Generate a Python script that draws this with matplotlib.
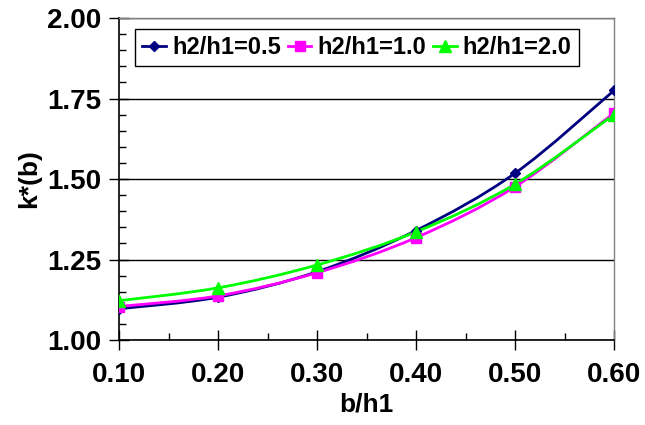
import matplotlib
matplotlib.use("Agg")
import matplotlib.pyplot as plt
from matplotlib.path import Path
from matplotlib.patches import PathPatch
from matplotlib.lines import Line2D
from matplotlib.ticker import MultipleLocator, FormatStrFormatter
import numpy as np

plt.rcParams['font.family'] = ['Liberation Sans', 'DejaVu Sans']
plt.rcParams['font.weight'] = 'bold'

# data
b_h1 = [0.10, 0.20, 0.30, 0.40, 0.50, 0.60]
k_05 = [1.097, 1.133, 1.212, 1.340, 1.518, 1.775]
k_10 = [1.104, 1.137, 1.209, 1.318, 1.476, 1.705]
k_20 = [1.122, 1.162, 1.233, 1.336, 1.484, 1.700]
labels = ['h2/h1=0.5', 'h2/h1=1.0', 'h2/h1=2.0']
colors = ['#000080', '#ff00ff', '#00ff00']
markers = ['D', 's', '^']
msizes = [5, 7, 8]


def smooth_path(x, y, tension=1/6):
    # Catmull-Rom style bezier like Excel's "smoothed line"
    x = np.asarray(x, float)
    y = np.asarray(y, float)
    verts = [(x[0], y[0])]
    codes = [Path.MOVETO]
    n = len(x)
    for i in range(n - 1):
        x0, y0 = (x[i - 1], y[i - 1]) if i > 0 else (x[i], y[i])
        x3, y3 = (x[i + 2], y[i + 2]) if i + 2 < n else (x[i + 1], y[i + 1])
        c1 = (x[i] + (x[i + 1] - x0) * tension, y[i] + (y[i + 1] - y0) * tension)
        c2 = (x[i + 1] - (x3 - x[i]) * tension, y[i + 1] - (y3 - y[i]) * tension)
        verts += [c1, c2, (x[i + 1], y[i + 1])]
        codes += [Path.CURVE4] * 3
    return Path(verts, codes)


fig = plt.figure(figsize=(6.45, 4.25), dpi=100)
ax = fig.add_axes([0.1845, 0.2, 0.7675, 0.7576])

series = [k_05, k_10, k_20]
handles = []
for ys, lab, c, m, ms in zip(series, labels, colors, markers, msizes):
    ax.add_patch(PathPatch(smooth_path(b_h1, ys), facecolor='none',
                           edgecolor=c, lw=2.0, zorder=3))
    ax.plot(b_h1, ys, ls='none', marker=m, ms=ms, color=c, zorder=4)
    handles.append(Line2D([], [], color=c, lw=2.0, marker=m, ms=ms, label=lab))

ax.set_xlim(0.10, 0.60)
ax.set_ylim(1.00, 2.00)
ax.xaxis.set_major_locator(MultipleLocator(0.10))
ax.xaxis.set_minor_locator(MultipleLocator(0.05))
ax.yaxis.set_major_locator(MultipleLocator(0.25))
ax.yaxis.set_minor_locator(MultipleLocator(0.05))
ax.xaxis.set_major_formatter(FormatStrFormatter('%.2f'))
ax.yaxis.set_major_formatter(FormatStrFormatter('%.2f'))

ax.grid(axis='y', which='major', color='black', lw=1.0)
ax.set_axisbelow(True)

for s in ['top', 'right']:
    ax.spines[s].set_color('#808080')
    ax.spines[s].set_linewidth(1.0)
for s in ['left', 'bottom']:
    ax.spines[s].set_color('black')
    ax.spines[s].set_linewidth(1.2)

ax.tick_params(which='major', direction='inout', length=14, width=1.0,
               labelsize=20)
ax.tick_params(which='minor', direction='in', length=5, width=1.0)
ax.tick_params(axis='x', which='major', pad=9)
ax.tick_params(axis='y', which='major', pad=6)

ax.set_xlabel('b/h1', fontsize=19, fontweight='bold', labelpad=3)
ax.set_ylabel('k*(b)', fontsize=19, fontweight='bold', labelpad=4)

leg = ax.legend(handles=handles, loc='upper left', bbox_to_anchor=(0.033, 0.965),
                ncol=3, fontsize=17, frameon=True, fancybox=False,
                handlelength=1.0, handletextpad=0.25, columnspacing=0.3,
                borderpad=0.3, borderaxespad=0.0)
leg.get_frame().set_edgecolor('black')
leg.get_frame().set_linewidth(1.0)
leg.get_frame().set_alpha(1.0)
for t in leg.get_texts():
    t.set_fontweight('bold')

fig.savefig('out.png', dpi=100)
